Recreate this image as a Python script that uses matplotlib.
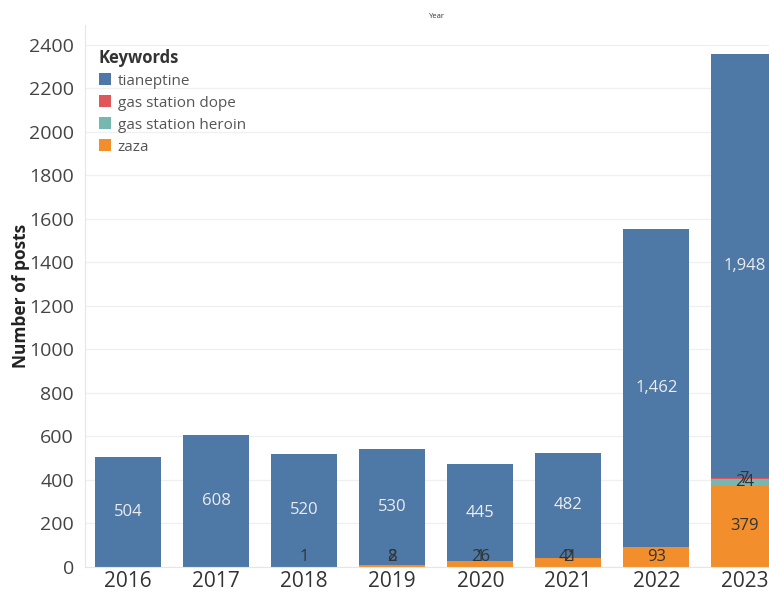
import numpy as np
import matplotlib
matplotlib.use('Agg')
import matplotlib.pyplot as plt

plt.rcParams['font.family'] = ['Open Sans', 'DejaVu Sans']

# values
years = ['2016', '2017', '2018', '2019', '2020', '2021', '2022', '2023']
zaza = [0, 0, 1, 8, 26, 41, 93, 379]
gas_station_heroin = [0, 0, 0, 2, 0, 2, 0, 24]
gas_station_dope = [0, 0, 0, 0, 1, 0, 0, 7]
tianeptine = [504, 608, 520, 530, 445, 482, 1462, 1948]

keywords = ['tianeptine', 'gas station dope', 'gas station heroin', 'zaza']
colors = {'tianeptine': '#4e79a7', 'gas station dope': '#e15759',
          'gas station heroin': '#76b7b2', 'zaza': '#f28e2b'}

fig = plt.figure(figsize=(7.69, 5.93), dpi=100)
ax = fig.add_axes([85 / 769, 1 - 567 / 593, 1 - 85 / 769, (567 - 25) / 593])

x = np.arange(len(years))
width = 0.75
bottom = np.zeros(len(years))
# stacking order bottom -> top
stack = [('zaza', zaza), ('gas station heroin', gas_station_heroin),
         ('gas station dope', gas_station_dope), ('tianeptine', tianeptine)]
handles = {}
for name, vals in stack:
    vals = np.array(vals, dtype=float)
    bars = ax.bar(x, vals, width, bottom=bottom, color=colors[name], label=name, zorder=2)
    handles[name] = bars
    for i, v in enumerate(vals):
        if v <= 0:
            continue
        yc = bottom[i] + v / 2
        if name == 'tianeptine':
            ax.text(x[i], yc, f'{int(v):,}', ha='center', va='center',
                    color='#ececec', fontsize=12, zorder=3)
        else:
            # tiny segments: tableau keeps the label inside the plot
            ax.text(x[i], max(yc, 45), f'{int(v):,}', ha='center', va='center',
                    color='#333333', fontsize=12, zorder=3)
    bottom += vals

ax.set_xlim(-0.49, 7.28)
ax.set_ylim(0, 2490)
ax.set_yticks(range(0, 2401, 200))
ax.set_xticks(x)
ax.set_xticklabels(years, fontsize=15, color='#333333')
ax.tick_params(axis='y', labelsize=14, labelcolor='#444444', length=0, pad=8)
ax.tick_params(axis='x', length=0, pad=3)
ax.grid(axis='y', color='#f0f0f0', linewidth=1, zorder=0)
for s in ['top', 'right']:
    ax.spines[s].set_visible(False)
ax.spines['left'].set_color('#e6e6e6')
ax.spines['bottom'].set_color('#e6e6e6')

ax.set_ylabel('Number of posts', fontsize=12.5, fontweight='bold', color='#222222', labelpad=-1)

leg = ax.legend([handles[k] for k in keywords], keywords, loc='upper left',
                bbox_to_anchor=(0.0, 0.982), frameon=False, title='Keywords',
                fontsize=11, title_fontproperties={'weight': 'bold', 'size': 12},
                handlelength=0.8, handleheight=0.8, handletextpad=0.45,
                labelspacing=0.45, alignment='left')
for t in leg.get_texts():
    t.set_color('#555555')
leg.get_title().set_color('#333333')

fig.text(437 / 769, 1 - 17 / 593, 'Year', ha='center', va='center', fontsize=5.5, color='#333333')

fig.savefig('out.png', dpi=100)
